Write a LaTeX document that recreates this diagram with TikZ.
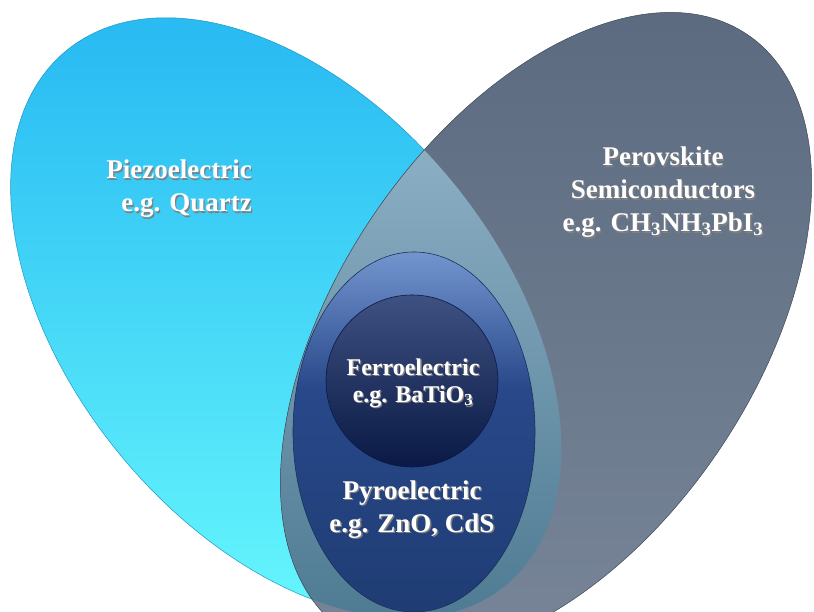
\documentclass[tikz,border=0pt]{standalone}
\usepackage{fontspec}
\setmainfont{Liberation Serif}
\usepackage{xcolor}
\usepackage{tikz}
\usetikzlibrary{calc}
\definecolor{piezotop}{HTML}{29BBF2}
\definecolor{piezobot}{HTML}{64F5FD}
\definecolor{perotop}{HTML}{5A697E}
\definecolor{perobot}{HTML}{7A879A}
\definecolor{lenstop}{HTML}{A2C2D5}
\definecolor{lensbot}{HTML}{44728B}
\definecolor{pyrotop}{HTML}{7395CE}
\definecolor{pyromid}{HTML}{28488A}
\definecolor{pyrobot}{HTML}{1F3C73}
\definecolor{ferrotop}{HTML}{3E5181}
\definecolor{ferrobot}{HTML}{0A1945}
\pgfdeclareverticalshading{pyroshade}{100bp}{color(0bp)=(pyrobot); color(25bp)=(pyrobot); color(56bp)=(pyromid); color(75bp)=(pyrotop); color(100bp)=(pyrotop)}
\newcommand{\shd}[1]{\rlap{\kern1.3pt\raisebox{-1.3pt}{\textcolor{black!50}{#1}}}#1}
\tikzstyle{lbl} = [text=white, inner sep=0pt, font=\bfseries\fontsize{27}{33}\selectfont]
\tikzstyle{lblsmall} = [lbl, font=\bfseries\fontsize{24}{27}\selectfont]
\tikzstyle{piezoshape} = [rotate around={-50.6:(cpiezo)}]
\tikzstyle{peroshape} = [rotate around={56:(cpero)}]

\begin{document}
\begin{tikzpicture}[x=1pt,y=-1pt]
	\useasboundingbox (0,0) rectangle (814,612);
	\fill[white] (0,0) rectangle (814,612);
	\clip (0,0) rectangle (814,612);
	\coordinate (cpiezo) at (286,318);
	\coordinate (cpero) at (546,333);
	\coordinate (cpyro) at (414,432);
	\coordinate (cferro) at (412,381);
	%%%%%%%%%%%%%%%%%%%%%%%%%%%%%%%%%%
	\shade[piezoshape, top color=piezotop, bottom color=piezobot] (cpiezo) ellipse [x radius=346, y radius=215];
	\draw[piezoshape, piezotop!80!black, line width=0.5pt] (cpiezo) ellipse [x radius=346, y radius=215];
	\shade[peroshape, top color=perotop, bottom color=perobot] (cpero) ellipse [x radius=360, y radius=209];
	\begin{scope}
		\clip[piezoshape] (cpiezo) ellipse [x radius=346, y radius=215];
		\shade[peroshape, top color=lenstop, bottom color=lensbot] (cpero) ellipse [x radius=360, y radius=209];
	\end{scope}
	\draw[peroshape, perotop!70!black, line width=0.5pt] (cpero) ellipse [x radius=360, y radius=209];
	%%%%%%%%%%%%%%%%%%%%%%%%%%%%%%%%%%
	\shade[shading=pyroshade, draw=pyrobot!80!black, line width=0.6pt] (cpyro) ellipse [x radius=121, y radius=180];
	\shade[top color=ferrotop, bottom color=ferrobot, draw=ferrobot, line width=0.6pt] (cferro) circle [radius=86];
	%%%%%%%%%%%%%%%%%%%%%%%%%%%%%%%%%%
	\node[lbl, align=right, anchor=base east] (piezo) at (252,212) {\shd{Piezoelectric}\\\shd{e.g. Quartz}};
	\node[lbl, align=center, anchor=base] (pero) at (663,232) {\shd{Perovskite}\\\shd{Semiconductors}\\\shd{e.g. CH\textsubscript{3}NH\textsubscript{3}PbI\textsubscript{3}}};
	\node[lblsmall, align=center, anchor=base] (ferro) at (413,402) {\shd{Ferroelectric}\\\shd{e.g. BaTiO\textsubscript{3}}};
	\node[lbl, align=center, anchor=base] (pyro) at (412,532) {\shd{Pyroelectric}\\\shd{e.g. ZnO, CdS}};
\end{tikzpicture}
\end{document}
